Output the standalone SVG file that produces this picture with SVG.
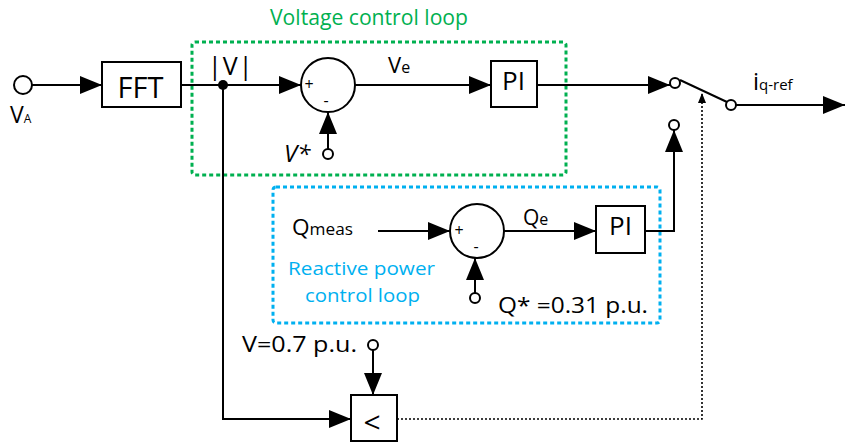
<svg xmlns="http://www.w3.org/2000/svg" width="845" height="443" viewBox="0 0 845 443">
<defs>
<marker id="ah" viewBox="0 0 22 18" refX="22" refY="9" markerWidth="22" markerHeight="18" markerUnits="userSpaceOnUse" orient="auto">
<path d="M0,0 L22,9 L0,18 Z" fill="#000"/>
</marker>
<marker id="as" viewBox="0 0 10 8" refX="10" refY="4" markerWidth="10" markerHeight="8" markerUnits="userSpaceOnUse" orient="auto">
<path d="M0,0 L10,4 L0,8 Z" fill="#000"/>
</marker>
</defs>
<style>
.ln{fill:none;stroke:#000;stroke-width:2}
.dt{fill:none;stroke:#000;stroke-width:1.6;stroke-dasharray:2,2}
.bx{fill:#fff;stroke:#000;stroke-width:2}
.port{fill:#fff;stroke:#000;stroke-width:2}
.t{font-family:"Open Sans","Liberation Sans",sans-serif;fill:#000}
.g{fill:none;stroke:#00b050;stroke-width:3;stroke-dasharray:4,3}
.b{fill:none;stroke:#00b0f0;stroke-width:3;stroke-dasharray:4,3}
</style>
<g id="loops">
<rect id="voltage-loop" class="g" x="192" y="42" width="374" height="133" rx="3"/>
<text class="t" x="270" y="25" font-size="21" style="fill:#00b050" textLength="198" lengthAdjust="spacingAndGlyphs">Voltage control loop</text>
<rect id="reactive-loop" class="b" x="273" y="187" width="387" height="136" rx="3"/>
<text class="t" x="288" y="275" font-size="19" style="fill:#00b0f0" textLength="147" lengthAdjust="spacingAndGlyphs">Reactive power</text>
<text class="t" x="305" y="302" font-size="19" style="fill:#00b0f0" textLength="115" lengthAdjust="spacingAndGlyphs">control loop</text>
</g>
<g id="connectors">
<line class="ln" x1="32" y1="85" x2="102" y2="85" marker-end="url(#ah)"/>
<line class="ln" x1="181" y1="85" x2="301" y2="85" marker-end="url(#ah)"/>
<line class="ln" x1="355" y1="85" x2="491" y2="85" marker-end="url(#ah)"/>
<line class="ln" x1="328" y1="149" x2="328" y2="112" marker-end="url(#ah)"/>
<line class="ln" x1="537" y1="85" x2="670" y2="85" marker-end="url(#ah)"/>
<line class="ln" x1="680" y1="80" x2="727" y2="102"/>
<line class="ln" x1="736" y1="105" x2="845" y2="105" marker-end="url(#ah)"/>
<polyline class="ln" points="645,231 674,231 674,130" marker-end="url(#ah)"/>
<line class="ln" x1="378" y1="231" x2="450" y2="231" marker-end="url(#ah)"/>
<line class="ln" x1="504" y1="231" x2="596" y2="231" marker-end="url(#ah)"/>
<line class="ln" x1="475" y1="293" x2="475" y2="258" marker-end="url(#ah)"/>
<polyline class="ln" points="223,85 223,419 351,419" marker-end="url(#ah)"/>
<line class="ln" x1="373" y1="350" x2="373" y2="395" marker-end="url(#ah)"/>
<polyline class="dt" points="397,419 702,419 702,93" marker-end="url(#as)"/>
<circle cx="223" cy="85" r="5" fill="#000"/>
</g>
<g id="VA">
<circle class="port" cx="23" cy="85" r="9"/>
<text class="t" x="10" y="123" font-size="23">V<tspan font-size="12">A</tspan></text>
</g>
<g id="FFT">
<rect class="bx" x="102" y="62" width="79" height="45"/>
<text class="t" x="140.5" y="98" font-size="29" text-anchor="middle">FFT</text>
</g>
<text class="t" x="208" y="75" font-size="25" letter-spacing="1">|V|</text>
<g id="sum1">
<circle class="bx" cx="328" cy="85" r="27"/>
<text class="t" x="309" y="90" font-size="16" text-anchor="middle">+</text>
<text class="t" x="326" y="106" font-size="16" text-anchor="middle">-</text>
</g>
<text class="t" x="388" y="72.5" font-size="22">V<tspan font-size="16">e</tspan></text>
<g id="Vstar">
<circle class="port" cx="328" cy="154" r="5"/>
<text class="t" x="284" y="162" font-size="24" font-style="italic">V*</text>
</g>
<g id="PI1">
<rect class="bx" x="491" y="61" width="46" height="46"/>
<text class="t" x="513.5" y="89.5" font-size="26" text-anchor="middle">PI</text>
</g>
<g id="switch">
<circle class="port" cx="675" cy="83" r="5"/>
<circle class="port" cx="731" cy="105" r="5"/>
<circle class="port" cx="674" cy="125" r="5"/>
<text class="t" x="753" y="90" font-size="24">i<tspan font-size="15">q-ref</tspan></text>
</g>
<g id="Qmeas">
<text class="t" x="292" y="235" font-size="21" textLength="61" lengthAdjust="spacingAndGlyphs">Q<tspan font-size="16">meas</tspan></text>
</g>
<g id="sum2">
<circle class="bx" cx="477" cy="231" r="27"/>
<text class="t" x="459" y="236" font-size="16" text-anchor="middle">+</text>
<text class="t" x="476" y="252" font-size="16" text-anchor="middle">-</text>
</g>
<text class="t" x="523" y="225" font-size="21">Q<tspan font-size="16">e</tspan></text>
<g id="Qstar">
<circle class="port" cx="475" cy="298" r="5"/>
<text class="t" x="498" y="313" font-size="22" textLength="150" lengthAdjust="spacingAndGlyphs">Q* =0.31 p.u.</text>
</g>
<g id="PI2">
<rect class="bx" x="596" y="206" width="49" height="47"/>
<text class="t" x="620.5" y="235" font-size="26" text-anchor="middle">PI</text>
</g>
<g id="Vref">
<circle class="port" cx="373" cy="345" r="5"/>
<text class="t" x="242" y="352" font-size="22" textLength="115" lengthAdjust="spacingAndGlyphs">V=0.7 p.u.</text>
</g>
<g id="comparator">
<rect class="bx" x="351" y="395" width="46" height="46"/>
<text class="t" x="372" y="433" font-size="30" text-anchor="middle">&lt;</text>
</g>
</svg>
